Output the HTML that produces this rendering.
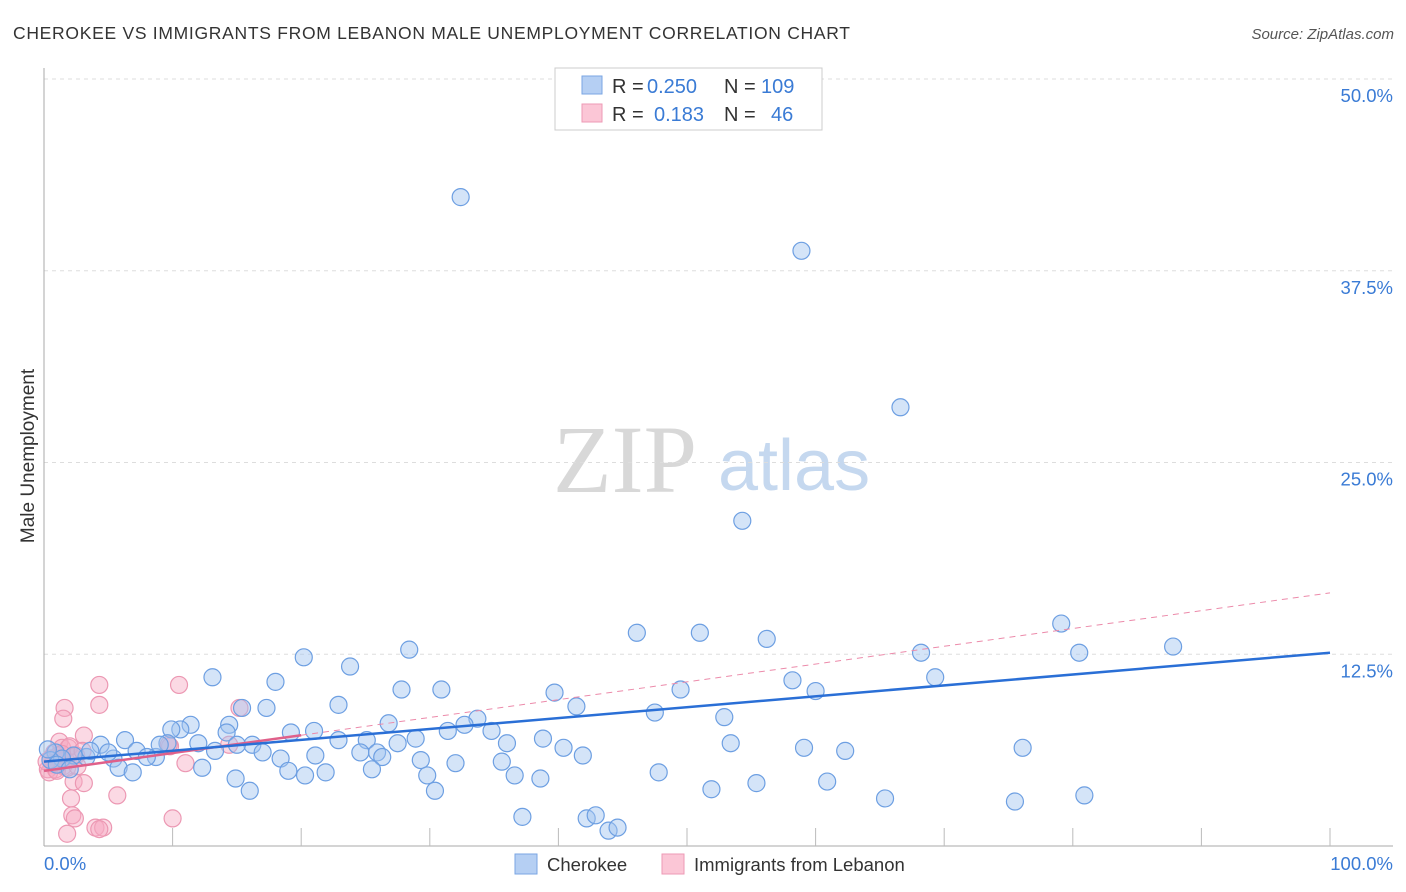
<!DOCTYPE html>
<html><head><meta charset="utf-8">
<style>
body{margin:0;background:#fff;font-family:"Liberation Sans",sans-serif;}
svg{display:block}
</style></head>
<body>
<svg id="chart" width="1406" height="892">
<text x="13" y="39" font-size="17.5" fill="#333" textLength="837" lengthAdjust="spacing">CHEROKEE VS IMMIGRANTS FROM LEBANON MALE UNEMPLOYMENT CORRELATION CHART</text>
<text x="1394" y="39" font-size="15" fill="#555" font-style="italic" text-anchor="end">Source: ZipAtlas.com</text>
<g>
<text x="553" y="492" font-family="Liberation Serif,serif" font-size="96" fill="#d8d8d8">ZIP</text>
<text x="718" y="490" font-size="72" fill="#c5d8ef">atlas</text>
</g>
<g id="grid"></g>
<g id="marks"></g>
<text transform="translate(34,456) rotate(-90)" font-size="19" fill="#333" text-anchor="middle">Male Unemployment</text>
<g>
<rect x="555" y="68" width="267" height="62" fill="#fff" stroke="#ccc"/>
<rect x="582" y="76" width="20" height="18" fill="#b5cff3" stroke="#7aa6e3"/>
<text y="93" font-size="20" fill="#333"><tspan x="612">R =</tspan><tspan x="647" fill="#3a7bd5">0.250</tspan><tspan x="724">N =</tspan><tspan x="761" fill="#3a7bd5">109</tspan></text>
<rect x="582" y="104" width="20" height="18" fill="#fbc6d6" stroke="#ee9ab5"/>
<text y="121" font-size="20" fill="#333"><tspan x="612">R =</tspan><tspan x="654" fill="#3a7bd5">0.183</tspan><tspan x="724">N =</tspan><tspan x="771" fill="#3a7bd5">46</tspan></text>
</g>
<g>
<rect x="515" y="854" width="22" height="20" fill="#b5cff3" stroke="#7aa6e3"/>
<text x="547" y="871" font-size="18.5" fill="#333">Cherokee</text>
<rect x="662" y="854" width="22" height="20" fill="#fbc6d6" stroke="#ee9ab5"/>
<text x="694" y="871" font-size="18.5" fill="#333">Immigrants from Lebanon</text>
</g>
</svg>
<script>
const yTicks=[12.5,25,37.5,50];
const yTickLabels=["12.5%","25.0%","37.5%","50.0%"];
const xTickLabels=["0.0%","100.0%"];
const blueX=[32.4,58.9,66.6,54.3,46.1,51.0,56.2,79.1,80.5,87.8,68.2,69.3,58.2,60.0,49.5,39.7,41.4,47.5,52.9,28.4,20.2,23.8,13.1,18.0,27.8,30.9,22.9,17.3,15.4,33.7,26.8,32.7,31.4,34.8,14.4,11.4,10.6,9.9,14.2,19.2,21.0,6.3,28.9,38.8,22.9,25.1,27.5,36.0,53.4,76.1,59.1,62.3,40.4,41.9,4.4,7.2,9.6,12.0,16.2,17.0,13.3,24.6,25.9,26.3,21.1,8.7,8.0,5.4,3.3,2.3,18.4,29.3,32.0,35.6,12.3,5.8,6.9,19.0,21.9,25.5,20.3,29.8,36.6,47.8,38.6,14.9,60.9,55.4,16.0,30.4,51.9,65.4,75.5,80.9,37.2,42.2,42.9,43.9,44.6,0.9,1.4,0.5,3.6,9.0,5.0,15.0,0.3,1.0,2.0];
const blueY=[42.3,38.8,28.6,21.2,13.9,13.9,13.5,14.5,12.6,13.0,12.6,11.0,10.8,10.1,10.2,10.0,9.1,8.7,8.4,12.8,12.3,11.7,11.0,10.7,10.2,10.2,9.2,9.0,9.0,8.3,8.0,7.9,7.5,7.5,7.9,7.9,7.6,7.6,7.4,7.4,7.5,6.9,7.0,7.0,6.9,6.9,6.7,6.7,6.7,6.4,6.4,6.2,6.4,5.9,6.6,6.2,6.7,6.7,6.6,6.1,6.2,6.1,6.1,5.8,5.9,5.8,5.8,5.7,5.8,5.9,5.7,5.6,5.4,5.5,5.1,5.1,4.8,4.9,4.8,5.0,4.6,4.6,4.6,4.8,4.4,4.4,4.2,4.1,3.6,3.6,3.7,3.1,2.9,3.3,1.9,1.8,2.0,1.0,1.2,6.1,5.7,5.6,6.2,6.6,6.1,6.6,6.3,5.3,5.0];
const pinkX=[1.6,1.5,4.3,10.5,4.3,15.2,3.1,1.2,1.4,1.9,0.8,0.5,0.6,0.9,1.2,1.7,2.2,0.3,1.1,1.5,2.0,11.0,14.4,9.8,2.3,3.1,2.1,5.7,2.2,2.4,4.0,4.6,4.3,10.0,1.8,9.7,2.5,0.4,1.0,1.3,0.7,1.8,2.6,0.2,1.4,3.0];
const pinkY=[9.0,8.3,10.5,10.5,9.2,9.0,7.2,6.8,6.4,6.4,6.1,5.7,5.3,5.0,5.5,5.6,5.8,5.0,5.9,5.2,6.5,5.4,6.6,6.5,4.2,4.1,3.1,3.3,2.0,1.8,1.2,1.2,1.1,1.8,0.8,6.6,5.9,4.8,4.9,5.6,5.4,5.1,5.2,5.5,6.0,6.2];
const blueTrend=[5.5,12.6];
const pinkTrend=[4.9,16.5];
const pinkSolidEnd=20;
const NS="http://www.w3.org/2000/svg";
const X0=44,X1=1330,Y0=846,Y50=79;
const xs=v=>X0+(X1-X0)*v/100;
const ys=v=>Y0-(Y0-Y50)*v/50;
function mk(t,a,p){const e=document.createElementNS(NS,t);for(const k in a)e.setAttribute(k,a[k]);p.appendChild(e);return e;}
const grid=document.getElementById('grid'),marks=document.getElementById('marks');
yTicks.forEach((t,i)=>{
 const l=mk('line',{x1:X0,x2:1393,y1:ys(t),y2:ys(t),stroke:'#ddd','stroke-dasharray':'4,4'},grid);
 
 
 const tx=mk('text',{x:1393,y:ys(t)+23,'text-anchor':'end','font-size':18.5,fill:'#3a7bd5'},grid);
 tx.textContent=yTickLabels[i];
 
 
});
const ax=mk('line',{x1:X0,x2:X0,y1:68,y2:Y0,stroke:'#aaa'},grid);


const bx=mk('line',{x1:X0,x2:1393,y1:Y0,y2:Y0,stroke:'#aaa'},grid);


for(let i=1;i<=10;i++){const t=mk('line',{x1:xs(i*10),x2:xs(i*10),y1:828,y2:Y0,stroke:'#bbb'},grid);
 
 }
[[0,'start'],[100,'end']].forEach((p,i)=>{const t=mk('text',{x:i?1393:X0,y:870,'text-anchor':p[1],'font-size':18.5,fill:'#3a7bd5'},grid);t.textContent=xTickLabels[i];
 
 });
pinkX.forEach((v,i)=>{const c=mk('circle',{cx:xs(v),cy:ys(pinkY[i]),r:8.5,fill:'rgba(246,170,196,0.45)',stroke:'#ec98b3','stroke-width':1.2},marks);
 
 });
blueX.forEach((v,i)=>{const c=mk('circle',{cx:xs(v),cy:ys(blueY[i]),r:8.5,fill:'rgba(160,196,240,0.45)',stroke:'#6d9fe2','stroke-width':1.2},marks);
 
 });
const pAt=v=>pinkTrend[0]+(pinkTrend[1]-pinkTrend[0])*v/100;
const pd=mk('line',{x1:xs(pinkSolidEnd),y1:ys(pAt(pinkSolidEnd)),x2:xs(100),y2:ys(pinkTrend[1]),stroke:'#ec8aaa','stroke-width':1,'stroke-dasharray':'6,5'},marks);


const ps=mk('line',{x1:xs(0),y1:ys(pinkTrend[0]),x2:xs(pinkSolidEnd),y2:ys(pAt(pinkSolidEnd)),stroke:'#e0608a','stroke-width':2.5},marks);


const bl=mk('line',{x1:xs(0),y1:ys(blueTrend[0]),x2:xs(100),y2:ys(blueTrend[1]),stroke:'#2a6fd6','stroke-width':2.5},marks);


</script>
</body></html>
